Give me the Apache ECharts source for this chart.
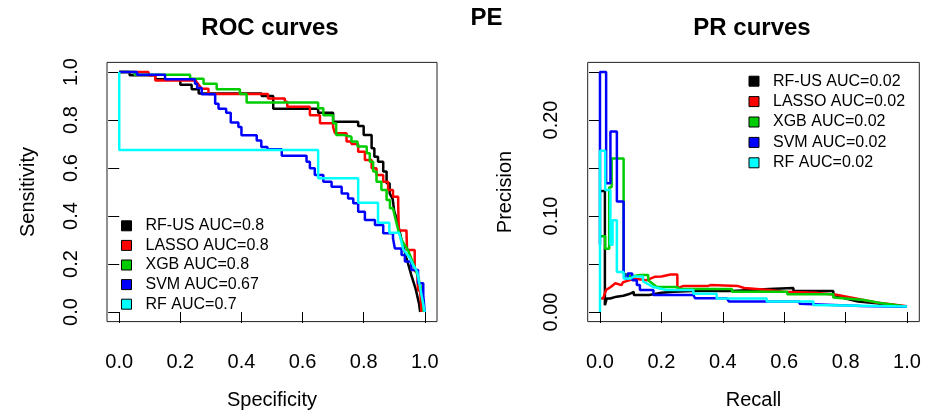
<!DOCTYPE html>
<html>
<head>
<meta charset="utf-8">
<script src="https://cdn.jsdelivr.net/npm/echarts@6/dist/echarts.min.js"></script>
<style>
html,body{margin:0;padding:0;background:#fff;}
#chart{width:926px;height:416px;}
</style>
</head>
<body>
<div id="chart"></div>
<script>
// ---------- data ----------
const mainTitle = 'PE';
const rocTitle = 'ROC curves';
const prTitle = 'PR curves';
const modelNames = ['RF-US', 'LASSO', 'XGB', 'SVM', 'RF'];
const modelColors = ['#000000', '#FF0000', '#00CD00', '#0000FF', '#00FFFF'];
const rocAUC = ['0.8', '0.8', '0.8', '0.67', '0.7'];
const prAUC = ['0.02', '0.02', '0.02', '0.02', '0.02'];

const rocTicks = [0, 0.2, 0.4, 0.6, 0.8, 1.0];
const rocTickLabels = ['0.0', '0.2', '0.4', '0.6', '0.8', '1.0'];
const prXTicks = [0, 0.2, 0.4, 0.6, 0.8, 1.0];
const prXTickLabels = ['0.0', '0.2', '0.4', '0.6', '0.8', '1.0'];
const prYTicks = [0, 0.05, 0.10, 0.15, 0.20, 0.25];
const prYLabelValues = [0, 0.10, 0.20];
const prYTickLabels = ['0.00', '0.10', '0.20'];

// ROC curves: [specificity, sensitivity]
const rocRFUS = [[0,1],[0.034,1],[0.034,0.986],[0.118,0.986],[0.118,0.97],[0.20,0.97],[0.20,0.947],[0.237,0.947],[0.237,0.928],[0.26,0.928],[0.26,0.91],[0.466,0.91],[0.466,0.9],[0.504,0.9],[0.504,0.847],[0.651,0.847],[0.651,0.83],[0.70,0.83],[0.70,0.793],[0.782,0.793],[0.782,0.775],[0.80,0.775],[0.80,0.738],[0.826,0.738],[0.826,0.682],[0.835,0.682],[0.835,0.647],[0.847,0.647],[0.847,0.626],[0.864,0.626],[0.864,0.585],[0.875,0.585],[0.875,0.536],[0.885,0.536],[0.885,0.494],[0.891,0.494],[0.895,0.47],[0.90,0.42],[0.91,0.38],[0.924,0.30],[0.94,0.225],[0.956,0.154],[0.971,0.092],[0.981,0.036],[0.985,0]];
const rocLASSO = [[0,1],[0.096,1],[0.096,0.986],[0.118,0.986],[0.118,0.965],[0.25,0.965],[0.255,0.955],[0.27,0.93],[0.292,0.93],[0.292,0.908],[0.487,0.908],[0.487,0.89],[0.542,0.89],[0.542,0.876],[0.55,0.876],[0.55,0.855],[0.624,0.855],[0.624,0.82],[0.657,0.82],[0.657,0.786],[0.70,0.786],[0.70,0.77],[0.706,0.77],[0.706,0.745],[0.744,0.745],[0.744,0.71],[0.76,0.71],[0.76,0.70],[0.782,0.70],[0.782,0.668],[0.804,0.668],[0.804,0.633],[0.826,0.633],[0.826,0.599],[0.842,0.599],[0.842,0.571],[0.864,0.571],[0.864,0.543],[0.88,0.543],[0.88,0.508],[0.896,0.508],[0.896,0.48],[0.913,0.48],[0.913,0.446],[0.915,0.446],[0.915,0.34],[0.94,0.34],[0.942,0.258],[0.967,0.258],[0.967,0.17],[0.975,0.17],[0.978,0.09],[0.985,0.09],[0.989,0]];
const rocXGB = [[0,1],[0.05,1],[0.05,0.989],[0.232,0.989],[0.232,0.972],[0.276,0.972],[0.276,0.951],[0.319,0.951],[0.319,0.928],[0.395,0.928],[0.395,0.908],[0.417,0.908],[0.417,0.873],[0.651,0.873],[0.651,0.849],[0.668,0.849],[0.668,0.82],[0.70,0.82],[0.70,0.786],[0.71,0.786],[0.71,0.738],[0.733,0.738],[0.733,0.73],[0.76,0.73],[0.76,0.71],[0.78,0.71],[0.78,0.69],[0.81,0.69],[0.81,0.661],[0.82,0.661],[0.82,0.626],[0.831,0.626],[0.831,0.585],[0.842,0.585],[0.842,0.543],[0.858,0.543],[0.858,0.508],[0.875,0.508],[0.875,0.467],[0.886,0.467],[0.886,0.432],[0.896,0.432],[0.90,0.41],[0.913,0.342],[0.924,0.30],[0.945,0.258],[0.962,0.203],[0.978,0.147],[0.989,0.092],[0.996,0.02],[0.996,0]];
const rocSVM = [[0,1],[0.058,1],[0.058,0.989],[0.15,0.989],[0.15,0.97],[0.248,0.97],[0.248,0.951],[0.255,0.951],[0.255,0.933],[0.27,0.933],[0.27,0.907],[0.314,0.907],[0.314,0.868],[0.325,0.868],[0.325,0.847],[0.35,0.847],[0.35,0.83],[0.365,0.83],[0.365,0.79],[0.39,0.79],[0.39,0.771],[0.40,0.771],[0.40,0.736],[0.45,0.736],[0.45,0.715],[0.465,0.715],[0.465,0.688],[0.485,0.688],[0.485,0.678],[0.532,0.678],[0.532,0.651],[0.613,0.651],[0.613,0.626],[0.624,0.626],[0.624,0.599],[0.64,0.599],[0.64,0.571],[0.668,0.571],[0.668,0.543],[0.695,0.543],[0.695,0.522],[0.728,0.522],[0.728,0.494],[0.749,0.494],[0.749,0.473],[0.766,0.473],[0.766,0.453],[0.782,0.453],[0.782,0.418],[0.804,0.418],[0.804,0.383],[0.837,0.383],[0.837,0.363],[0.864,0.363],[0.864,0.328],[0.896,0.328],[0.896,0.307],[0.902,0.307],[0.902,0.265],[0.924,0.265],[0.924,0.238],[0.935,0.238],[0.935,0.21],[0.956,0.21],[0.956,0.175],[0.978,0.175],[0.978,0.12],[0.995,0.12],[0.995,0.07],[1.0,0.07],[1.0,0]];
const rocRF = [[0,1],[0,0.675],[0.651,0.675],[0.651,0.557],[0.782,0.557],[0.782,0.455],[0.847,0.455],[0.847,0.372],[0.884,0.372],[0.884,0.33],[0.916,0.33],[0.93,0.26],[0.951,0.225],[0.96,0.2],[0.975,0.168],[0.985,0.1],[1.0,0]];

// PR curves: [recall, precision]
const prRFUS = [[0,0.126],[0.016,0.126],[0.016,0.007],[0.022,0.007],[0.022,0.014],[0.033,0.014],[0.033,0.016],[0.054,0.016],[0.054,0.017],[0.076,0.017],[0.076,0.019],[0.098,0.019],[0.098,0.021],[0.11,0.021],[0.11,0.0177],[0.16,0.0177],[0.16,0.019],[0.2,0.02],[0.24,0.021],[0.3,0.022],[0.43,0.022],[0.43,0.024],[0.55,0.024],[0.55,0.025],[0.63,0.025],[0.63,0.022],[0.76,0.022],[0.76,0.018],[0.8,0.014],[0.84,0.011],[0.9,0.009],[1.0,0.0055]];
const prLASSO = [[0,0.014],[0.01,0.014],[0.02,0.023],[0.035,0.026],[0.05,0.03],[0.07,0.028],[0.075,0.031],[0.095,0.033],[0.11,0.035],[0.15,0.033],[0.18,0.0368],[0.2,0.037],[0.23,0.039],[0.252,0.039],[0.252,0.0247],[0.27,0.027],[0.35,0.027],[0.36,0.028],[0.45,0.027],[0.47,0.025],[0.55,0.023],[0.6,0.021],[0.7,0.02],[0.77,0.018],[0.85,0.013],[0.9,0.01],[1.0,0.006]];
const prXGB = [[0,0.079],[0.017,0.079],[0.017,0.066],[0.03,0.066],[0.03,0.13],[0.038,0.13],[0.038,0.16],[0.077,0.16],[0.077,0.04],[0.1,0.037],[0.13,0.0385],[0.157,0.0385],[0.157,0.033],[0.185,0.026],[0.25,0.026],[0.26,0.024],[0.43,0.024],[0.43,0.021],[0.61,0.021],[0.61,0.0184],[0.76,0.0184],[0.76,0.015],[0.86,0.0125],[0.92,0.009],[1.0,0.0056]];
const prSVM = [[0,0.07],[0,0.25],[0.02,0.25],[0.02,0.134],[0.034,0.134],[0.034,0.188],[0.055,0.188],[0.055,0.115],[0.077,0.115],[0.077,0.043],[0.081,0.035],[0.09,0.035],[0.09,0.04],[0.105,0.04],[0.105,0.033],[0.12,0.033],[0.12,0.028],[0.13,0.028],[0.13,0.023],[0.174,0.023],[0.174,0.0177],[0.304,0.0177],[0.31,0.0142],[0.413,0.0142],[0.42,0.011],[0.65,0.011],[0.65,0.0085],[0.76,0.0073],[0.85,0.0062],[1.0,0.0055]];
const prRF = [[0,0],[0,0.168],[0.017,0.168],[0.017,0.127],[0.034,0.127],[0.034,0.07],[0.041,0.07],[0.041,0.0955],[0.055,0.0955],[0.055,0.0417],[0.077,0.0417],[0.077,0.035],[0.1,0.035],[0.11,0.037],[0.14,0.037],[0.14,0.032],[0.174,0.026],[0.217,0.023],[0.304,0.023],[0.304,0.019],[0.38,0.019],[0.38,0.014],[0.543,0.014],[0.543,0.011],[0.695,0.011],[0.695,0.0073],[0.85,0.0065],[1.0,0.0056]];

const rocCurves = [rocRFUS, rocLASSO, rocXGB, rocSVM, rocRF];
const prCurves = [prRFUS, prLASSO, prXGB, prSVM, prRF];

// ---------- chart ----------
const FONT = '"Liberation Sans", Arial, sans-serif';
function lookup(ticks, labels) {
  return function (v) {
    const i = ticks.findIndex(t => Math.abs(t - v) < 1e-9);
    return i >= 0 ? labels[i] : '';
  };
}
const rocNames = modelNames.map((n, i) => n + ' AUC=' + rocAUC[i]);
const prNames = modelNames.map((n, i) => n + ' AUC=' + prAUC[i]);

function xAxisCfg(gi, ticks, labels, name) {
  return {
    type: 'value', gridIndex: gi, min: -0.04, max: 1.04,
    axisLine: {show: false}, splitLine: {show: false},
    axisTick: {show: true, customValues: ticks, length: 11, lineStyle: {color: '#000', width: 1}},
    axisLabel: {customValues: ticks, formatter: lookup(ticks, labels), fontSize: 20, fontFamily: FONT, color: '#000', margin: 31},
    name: name, nameLocation: 'middle', nameGap: 69,
    nameTextStyle: {fontSize: 20, fontFamily: FONT, color: '#000'}
  };
}
function yAxisCfg(gi, min, max, ticks, labelVals, labels, name, gap) {
  return {
    type: 'value', gridIndex: gi, min: min, max: max,
    axisLine: {show: false}, splitLine: {show: false},
    axisTick: {show: true, customValues: ticks, length: 11, lineStyle: {color: '#000', width: 1}},
    axisLabel: {customValues: labelVals, formatter: lookup(labelVals, labels), rotate: 90, fontSize: 20, fontFamily: FONT, color: '#000', margin: 26},
    name: name, nameLocation: 'middle', nameGap: gap,
    nameTextStyle: {fontSize: 20, fontFamily: FONT, color: '#000'}
  };
}

const series = [];
rocCurves.forEach((d, i) => series.push({
  name: rocNames[i], type: 'line', xAxisIndex: 0, yAxisIndex: 0, data: d,
  symbol: 'none', showSymbol: false, color: modelColors[i],
  lineStyle: {width: 2.5, color: modelColors[i]}, animation: false
}));
prCurves.forEach((d, i) => series.push({
  name: prNames[i], type: 'line', xAxisIndex: 1, yAxisIndex: 1, data: d,
  symbol: 'none', showSymbol: false, color: modelColors[i],
  lineStyle: {width: 2.5, color: modelColors[i]}, animation: false
}));

function legendCfg(names, left, top, lh) {
  return {
    data: names.map(n => ({name: n, icon: 'rect'})),
    orient: 'vertical', left: left, top: top, padding: 0, itemGap: 0,
    itemWidth: 10, itemHeight: 10, selectedMode: false,
    itemStyle: {borderColor: '#000', borderWidth: 1},
    textStyle: {fontSize: 16, fontFamily: FONT, color: '#000', lineHeight: lh, padding: [0, 0, 0, 9]}
  };
}

const option = {
  backgroundColor: '#fff',
  animation: false,
  grid: [
    {left: 107, top: 62.4, width: 330, height: 259.2, show: true, borderColor: '#222', borderWidth: 1, backgroundColor: 'transparent'},
    {left: 587.7, top: 62.4, width: 331.6, height: 259.2, show: true, borderColor: '#222', borderWidth: 1, backgroundColor: 'transparent'}
  ],
  xAxis: [
    xAxisCfg(0, rocTicks, rocTickLabels, 'Specificity'),
    xAxisCfg(1, prXTicks, prXTickLabels, 'Recall')
  ],
  yAxis: [
    yAxisCfg(0, -0.04, 1.04, rocTicks, rocTicks, rocTickLabels, 'Sensitivity', 69),
    yAxisCfg(1, -0.01, 0.26, prYTicks, prYLabelValues, prYTickLabels, 'Precision', 72)
  ],
  legend: [
    legendCfg(rocNames, 121, 216, 19.6),
    legendCfg(prNames, 748.5, 71, 20.4)
  ],
  graphic: [
    {type: 'text', x: 486.5, y: 18.5, style: {text: mainTitle, font: 'bold 24px ' + FONT, fill: '#000', textAlign: 'center', textVerticalAlign: 'middle'}},
    {type: 'text', x: 270, y: 28.5, style: {text: rocTitle, font: 'bold 24px ' + FONT, fill: '#000', textAlign: 'center', textVerticalAlign: 'middle'}},
    {type: 'text', x: 752, y: 28.5, style: {text: prTitle, font: 'bold 24px ' + FONT, fill: '#000', textAlign: 'center', textVerticalAlign: 'middle'}}
  ],
  series: series
};
const chart = echarts.init(document.getElementById('chart'), null, {renderer: 'canvas'});
chart.setOption(option);
</script>
</body>
</html>
